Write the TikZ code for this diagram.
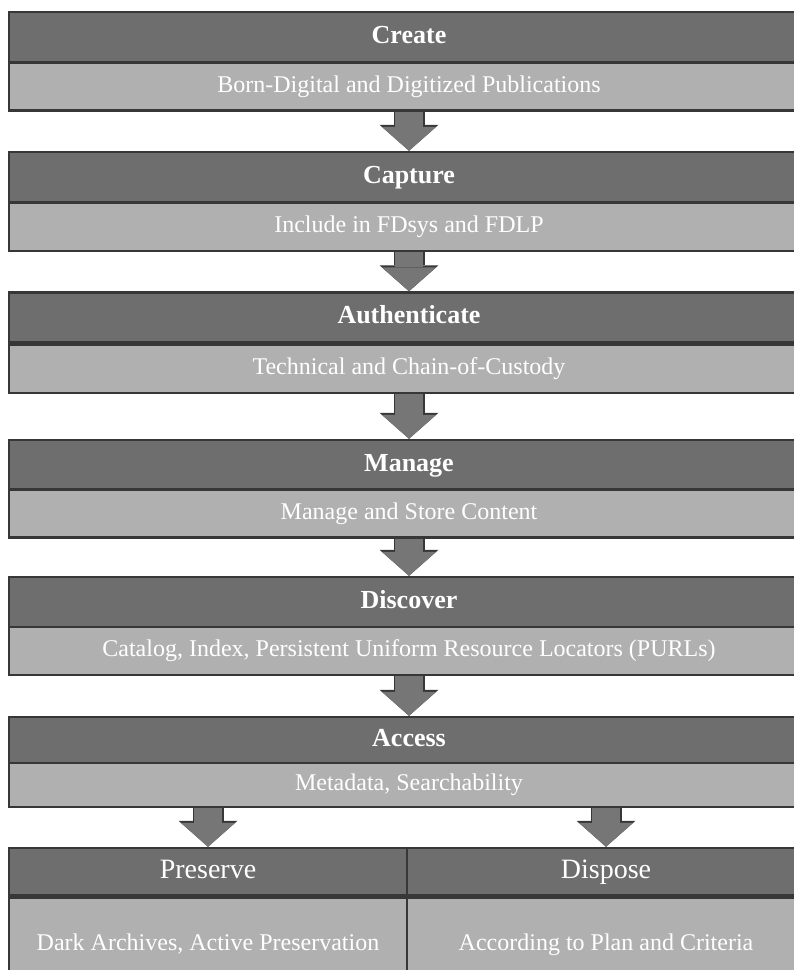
\documentclass[tikz,border=0pt]{standalone}
\usepackage{fontspec}
\setmainfont{Liberation Serif}
\usepackage{tikz}
\usetikzlibrary{arrows.meta}

\definecolor{headgray}{RGB}{110,110,110}
\definecolor{bandgray}{RGB}{176,176,176}
\definecolor{edgegray}{RGB}{55,55,55}
\definecolor{arrowgray}{RGB}{118,118,118}

\begin{document}
\begin{tikzpicture}[x=1pt,y=-1pt,
  head/.style={draw=edgegray,line width=2.5pt,fill=headgray,text=white,inner sep=0pt,minimum width=800pt,minimum height=50pt,text height=18pt,text depth=6pt,font=\fontsize{26}{30}\selectfont\bfseries},
  band/.style={draw=edgegray,line width=2.5pt,fill=bandgray,text=white,inner sep=0pt,minimum width=800pt,minimum height=48pt,text height=16pt,text depth=5pt,font=\fontsize{24}{28}\selectfont},
  halfhead/.style={head,minimum width=398pt,minimum height=47pt,text height=19pt,text depth=6pt,font=\fontsize{28}{32}\selectfont},
  halfband/.style={band,minimum width=398pt,minimum height=95pt},
  flowarrow/.style={line width=28pt,arrowgray,-{Triangle[length=24pt,width=54pt,line width=0pt]}},
  flowedge/.style={line width=31pt,edgegray,-{Triangle[length=26pt,width=59pt,line width=0pt]}}]

\useasboundingbox[fill=white] (0,0) rectangle (794,970);

\node[head] (createhead) at (409,37) {Create};
\node[band] (createband) at (409,86.5) {Born-Digital and Digitized Publications};

\node[head] (capturehead) at (409,177) {Capture};
\node[band] (captureband) at (409,227) {Include in FDsys and FDLP};

\node[head] (authhead) at (409,317.5) {Authenticate};
\node[band] (authband) at (409,369) {Technical and Chain-of-Custody};

\node[head] (managehead) at (409,465) {Manage};
\node[band] (manageband) at (409,513.5) {Manage and Store Content};

\node[head] (discoverhead) at (409,602) {Discover};
\node[band] (discoverband) at (409,651) {Catalog, Index, Persistent Uniform Resource Locators (PURLs)};

\node[head,minimum height=46pt] (accesshead) at (409,740) {Access};
\node[band,minimum height=44pt] (accessband) at (409,785) {Metadata, Searchability};

\node[halfhead] (preservehead) at (208,871.5) {Preserve};
\node[halfband,anchor=north] (preserveband) at (preservehead.south) {Dark Archives, Active Preservation};
\node[halfhead] (disposehead) at (606,871.5) {Dispose};
\node[halfband,anchor=north] (disposeband) at (disposehead.south) {According to Plan and Criteria};

\foreach \from/\to in {createband/capturehead,captureband/authhead,authband/managehead,manageband/discoverhead,discoverband/accesshead}{
  \draw[flowedge] (\from.south) -- (\to.north);
  \draw[flowarrow] (\from.south) -- (\to.north);
}
\draw[flowedge] (accessband.south -| preservehead.north) -- (preservehead.north);
\draw[flowarrow] (accessband.south -| preservehead.north) -- (preservehead.north);
\draw[flowedge] (accessband.south -| disposehead.north) -- (disposehead.north);
\draw[flowarrow] (accessband.south -| disposehead.north) -- (disposehead.north);

\end{tikzpicture}
\end{document}
